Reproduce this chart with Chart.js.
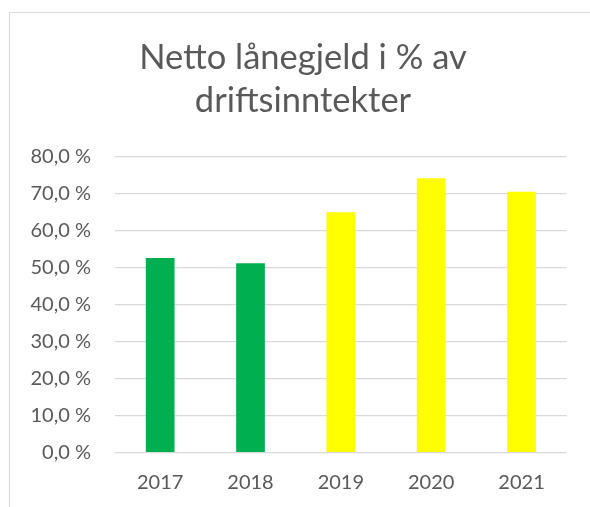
<!DOCTYPE html>
<html>
<head>
<meta charset="utf-8">
<script src="https://cdn.jsdelivr.net/npm/chart.js@4/dist/chart.umd.min.js"></script>
<style>
  html, body { margin: 0; padding: 0; background: #ffffff; overflow: hidden; }
  #wrap { position: relative; width: 590px; height: 507px; overflow: hidden; }
  #frame { position: absolute; left: 9px; top: 12px; width: 700px; height: 700px;
           border-top: 1px solid #D9D9D9; border-left: 1px solid #D9D9D9; box-sizing: border-box; }
  canvas { position: absolute; left: 0; top: 0; }
</style>
</head>
<body>
<div id="wrap">
  <div id="frame"></div>
  <canvas id="c" width="606" height="507"></canvas>
</div>
<script>
const titleLines = ['Netto lånegjeld i % av', 'driftsinntekter'];
const years = ['2017', '2018', '2019', '2020', '2021'];
const values = [52.6, 51.2, 65.0, 74.2, 70.5];
const barColors = ['#00B050', '#00B050', '#FFFF00', '#FFFF00', '#FFFF00'];
const yTickValues = [0, 10, 20, 30, 40, 50, 60, 70, 80];
const yTickLabels = ['0,0 %', '10,0 %', '20,0 %', '30,0 %', '40,0 %', '50,0 %', '60,0 %', '70,0 %', '80,0 %'];

const FONT = 'Lato';
const TEXT = '#595959';

new Chart(document.getElementById('c'), {
  type: 'bar',
  data: {
    labels: years,
    datasets: [{
      data: values,
      backgroundColor: barColors,
      borderWidth: 0,
      categoryPercentage: 0.318,
      barPercentage: 1.0
    }]
  },
  options: {
    responsive: false,
    animation: false,
    devicePixelRatio: 1,
    layout: { padding: 0 },
    plugins: {
      legend: { display: false },
      tooltip: { enabled: false },
      title: {
        display: true,
        text: titleLines,
        color: TEXT,
        font: { family: FONT, size: 34.5, weight: 'normal', lineHeight: 43 / 34.5 },
        padding: { top: 36.5, bottom: 34.2 }
      }
    },
    scales: {
      x: {
        grid: { display: false },
        border: { display: false },
        ticks: { color: TEXT, font: { family: FONT, size: 20 }, padding: 10, maxRotation: 0 },
        afterFit: (s) => { s.height = 54.3; }
      },
      y: {
        min: 0,
        max: 80,
        afterBuildTicks: (s) => { s.ticks = yTickValues.map(v => ({ value: v })); },
        grid: { color: '#D9D9D9', lineWidth: 1.3, drawTicks: false },
        border: { display: false },
        ticks: {
          color: TEXT,
          font: { family: FONT, size: 20 },
          padding: 24,
          callback: (v) => yTickLabels[yTickValues.indexOf(v)]
        },
        afterFit: (s) => { s.width = 115; }
      },
      yRightSpace: {
        type: 'linear',
        position: 'right',
        grid: { display: false, drawTicks: false },
        border: { display: false },
        ticks: { display: false },
        afterFit: (s) => { s.width = 39.3; }
      }
    }
  }
});
</script>
</body>
</html>
